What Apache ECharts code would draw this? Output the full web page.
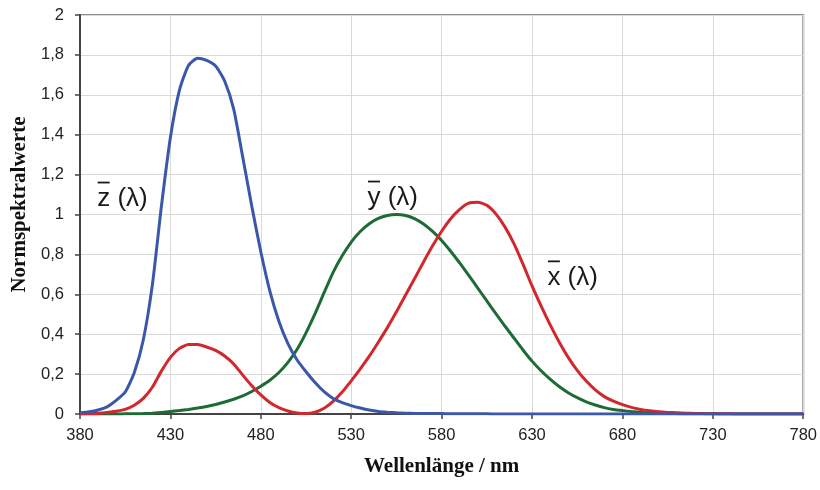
<!DOCTYPE html>
<html>
<head>
<meta charset="utf-8">
<script src="https://cdn.jsdelivr.net/npm/echarts@6/dist/echarts.min.js"></script>
<style>
  html, body { margin: 0; padding: 0; background: #fff; }
  #chart { width: 820px; height: 490px; }
</style>
</head>
<body>
<div id="chart"></div>
<script>
// CIE 1931 standard observer (2°), sampled every 5 nm from 380 to 780 nm
const wavelengths = [];
for (let w = 380; w <= 780; w += 5) wavelengths.push(w);

const xBar = [
  0.001, 0.002, 0.004, 0.008, 0.014, 0.023, 0.044, 0.078, 0.134, 0.215,
  0.284, 0.329, 0.348, 0.348, 0.336, 0.319, 0.291, 0.251, 0.195, 0.142,
  0.096, 0.058, 0.032, 0.015, 0.005, 0.002, 0.009, 0.029, 0.063, 0.110,
  0.166, 0.226, 0.290, 0.360, 0.433, 0.512, 0.595, 0.678, 0.762, 0.843,
  0.916, 0.979, 1.026, 1.057, 1.062, 1.046, 1.003, 0.938, 0.854, 0.751,
  0.642, 0.542, 0.448, 0.361, 0.284, 0.219, 0.165, 0.121, 0.087, 0.064,
  0.047, 0.033, 0.023, 0.016, 0.011, 0.008, 0.006, 0.004, 0.003, 0.002,
  0.001, 0.001, 0.001, 0.000, 0.000, 0.000, 0.000, 0.000, 0.000, 0.000,
  0.000
];
const yBar = [
  0.000, 0.000, 0.000, 0.000, 0.000, 0.001, 0.001, 0.002, 0.004, 0.007,
  0.012, 0.017, 0.023, 0.030, 0.038, 0.048, 0.060, 0.074, 0.091, 0.113,
  0.139, 0.169, 0.208, 0.259, 0.323, 0.407, 0.503, 0.608, 0.710, 0.793,
  0.862, 0.915, 0.954, 0.980, 0.995, 1.000, 0.995, 0.979, 0.952, 0.915,
  0.870, 0.816, 0.757, 0.695, 0.631, 0.567, 0.503, 0.441, 0.381, 0.321,
  0.265, 0.217, 0.175, 0.138, 0.107, 0.082, 0.061, 0.045, 0.032, 0.023,
  0.017, 0.012, 0.008, 0.006, 0.004, 0.003, 0.002, 0.001, 0.001, 0.001,
  0.001, 0.000, 0.000, 0.000, 0.000, 0.000, 0.000, 0.000, 0.000, 0.000,
  0.000
];
const zBar = [
  0.006, 0.011, 0.020, 0.036, 0.068, 0.110, 0.207, 0.371, 0.646, 1.039,
  1.386, 1.623, 1.747, 1.783, 1.772, 1.744, 1.669, 1.528, 1.288, 1.042,
  0.813, 0.616, 0.465, 0.353, 0.272, 0.212, 0.158, 0.112, 0.078, 0.057,
  0.042, 0.030, 0.020, 0.013, 0.009, 0.006, 0.004, 0.003, 0.002, 0.002,
  0.002, 0.001, 0.001, 0.001, 0.001, 0.001, 0.000, 0.000, 0.000, 0.000,
  0.000, 0.000, 0.000, 0.000, 0.000, 0.000, 0.000, 0.000, 0.000, 0.000,
  0.000, 0.000, 0.000, 0.000, 0.000, 0.000, 0.000, 0.000, 0.000, 0.000,
  0.000, 0.000, 0.000, 0.000, 0.000, 0.000, 0.000, 0.000, 0.000, 0.000,
  0.000
];

// Curve annotations: letter, anchor [wavelength, value]
const curveLabels = [
  { letter: 'z', at: [389.5, 1.08] },
  { letter: 'y', at: [539, 1.085] },
  { letter: 'x', at: [638.5, 0.685] }
];

const colors = { x: '#d1272d', y: '#1d6b35', z: '#3a57a9' };
const pair = (arr) => wavelengths.map((w, i) => [w, arr[i]]);

const chart = echarts.init(document.getElementById('chart'), null, { renderer: 'canvas' });

const labelFont = '"Liberation Sans", Arial, sans-serif';
const nameFont = '"Liberation Serif", "Times New Roman", serif';

function lineSeries(name, arr, color) {
  return {
    name: name,
    type: 'line',
    data: pair(arr),
    showSymbol: false,
    smooth: 0.2,
    lineStyle: { color: color, width: 3 },
    itemStyle: { color: color },
    z: 3
  };
}

chart.setOption({
  animation: false,
  grid: {
    left: 80, right: 16, top: 15, bottom: 76,
    show: true, borderColor: '#8f8f8f', borderWidth: 2,
    containLabel: false
  },
  xAxis: {
    type: 'value',
    min: 380, max: 780, interval: 50,
    name: 'Wellenlänge / nm',
    nameLocation: 'middle',
    nameGap: 42,
    nameTextStyle: { fontFamily: nameFont, fontWeight: 'bold', fontSize: 21, color: '#111' },
    axisLine: { show: true, onZero: false, lineStyle: { color: '#444', width: 2 } },
    axisTick: { show: true, length: 5, lineStyle: { color: '#444', width: 1.5 } },
    axisLabel: { fontFamily: labelFont, fontSize: 16.5, color: '#222', margin: 13 },
    splitLine: { show: true, lineStyle: { color: '#d9d9d9', width: 1 } }
  },
  yAxis: {
    type: 'value',
    min: 0, max: 2, interval: 0.2,
    name: 'Normspektralwerte',
    nameLocation: 'middle',
    nameGap: 50,
    nameTextStyle: {
      fontFamily: nameFont, fontWeight: 'bold', fontSize: 21, color: '#111',
      padding: [0, 0, 0, 20]
    },
    axisLine: { show: true, lineStyle: { color: '#444', width: 2 } },
    axisTick: { show: true, length: 5, lineStyle: { color: '#444', width: 1.5 } },
    axisLabel: {
      fontFamily: labelFont, fontSize: 16.5, color: '#222', margin: 16,
      formatter: (v) => String(Math.round(v * 10) / 10).replace('.', ',')
    },
    splitLine: { show: true, lineStyle: { color: '#d9d9d9', width: 1 } }
  },
  series: [
    lineSeries('y', yBar, colors.y),
    lineSeries('x', xBar, colors.x),
    lineSeries('z', zBar, colors.z)
  ]
});

// Place the curve annotations at data coordinates, with an overbar on the letter
function drawLabels() {
  const elements = [];
  curveLabels.forEach((lab) => {
    const p = chart.convertToPixel({ gridIndex: 0 }, lab.at);
    elements.push({
      type: 'text',
      x: p[0], y: p[1],
      style: {
        text: lab.letter + ' (λ)',
        font: '26px ' + labelFont,
        fill: '#1a1a1a',
        textAlign: 'left',
        textVerticalAlign: 'middle'
      },
      z: 10
    });
    elements.push({
      type: 'line',
      shape: { x1: p[0] + 0.5, y1: p[1] - 16, x2: p[0] + 12.5, y2: p[1] - 16 },
      style: { stroke: '#1a1a1a', lineWidth: 1.8 },
      z: 10
    });
  });
  chart.setOption({ graphic: elements });
}
drawLabels();
</script>
</body>
</html>
